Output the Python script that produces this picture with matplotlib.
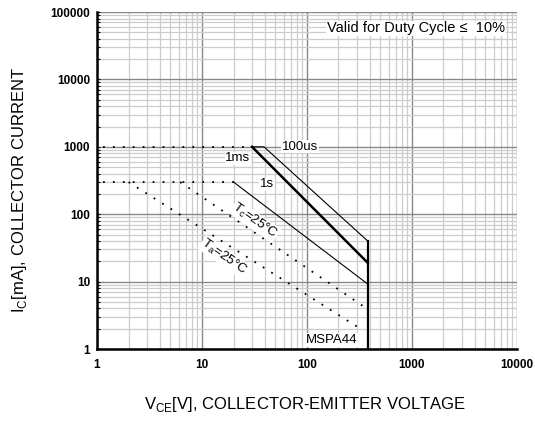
import matplotlib
matplotlib.use("Agg")
import matplotlib.pyplot as plt
from matplotlib.ticker import LogLocator, FixedLocator, NullFormatter

plt.rcParams['font.family'] = ['Liberation Sans', 'DejaVu Sans']

# SOA curves (Vce [V], Ic [mA])
v_100us = [30, 39, 380, 380]
i_100us = [1000, 1000, 40, 1]
v_1ms = [30, 380]
i_1ms = [1000, 19]
v_1s = [20, 380]
i_1s = [300, 9.2]
v_dc1000 = [1.15, 30]
i_dc1000 = [1000, 1000]
v_dc300 = [1.15, 20]
i_dc300 = [300, 300]
v_tc = [6.2, 345]
i_tc = [300, 4.3]
v_ta = [2.0, 340]
i_ta = [300, 1.9]

xticks = [1, 10, 100, 1000, 10000]
yticks = [1, 10, 100, 1000, 10000, 100000]

fig = plt.figure(figsize=(5.35, 4.23), dpi=100)
ax = fig.add_axes([0.1813, 0.1749, 0.7847, 0.7967])
ax.set_xscale('log')
ax.set_yscale('log')
ax.set_xlim(1, 10000)
ax.set_ylim(1, 100000)

ax.xaxis.set_major_locator(FixedLocator(xticks))
ax.yaxis.set_major_locator(FixedLocator(yticks))
ax.set_xticklabels([str(t) for t in xticks], fontweight='bold', fontsize=8.5)
ax.set_yticklabels([str(t) for t in yticks], fontweight='bold', fontsize=8.5)
ax.xaxis.set_minor_locator(LogLocator(base=10, subs=range(2, 10), numticks=20))
ax.yaxis.set_minor_locator(LogLocator(base=10, subs=range(2, 10), numticks=20))
ax.xaxis.set_minor_formatter(NullFormatter())
ax.yaxis.set_minor_formatter(NullFormatter())
ax.grid(which='minor', color='#cccccc', linewidth=0.9)
ax.grid(which='major', color='#888888', linewidth=1.0)
ax.set_axisbelow(True)
ax.tick_params(which='both', direction='in', length=2, width=0.8, pad=5)
ax.tick_params(axis='x', which='both', length=0, pad=7)
for s in ['left', 'bottom']:
    ax.spines[s].set_linewidth(1.8)
for s in ['top', 'right']:
    ax.spines[s].set_visible(False)

ax.plot(v_100us, i_100us, color='black', lw=0.8)
ax.plot(v_1ms, i_1ms, color='black', lw=1.8)
ax.plot(v_1s, i_1s, color='black', lw=0.8)
ax.plot([380, 380], [40, 1], color='black', lw=1.6)
dot = dict(color='black', lw=1.3, linestyle=(0, (1, 4.5)))
ax.plot(v_dc1000, i_dc1000, **dot)
ax.plot(v_dc300, i_dc300, **dot)
ax.plot(v_tc, i_tc, **dot)
ax.plot(v_ta, i_ta, **dot)

box = dict(facecolor='white', edgecolor='none', pad=0.5)
fs = 9.5
ax.text(86, 1000, '100us', fontsize=fs, ha='center', va='center', bbox=box)
ax.text(22, 676, '1ms', fontsize=fs, ha='center', va='center', bbox=box)
ax.text(41.5, 278, '1s', fontsize=fs, ha='center', va='center', bbox=box)
ax.text(32, 79, 'T$_\\mathregular{c}$=25°C', fontsize=fs, ha='center', va='center',
        rotation=-35, bbox=box)
ax.text(16.2, 23, 'T$_\\mathregular{a}$=25°C', fontsize=fs, ha='center', va='center',
        rotation=-35, bbox=box)
ax.text(173, 1.36, 'MSPA44', fontsize=fs, ha='center', va='center', bbox=box)
ax.text(7700, 57000, 'Valid for Duty Cycle \u2264  10%', fontsize=10.5, ha='right', va='center',
        bbox=box)

fig.text(0.57, 0.043, 'V$_\\mathregular{CE}$[V], COLLECTOR-EMITTER VOLTAGE', fontsize=12,
         ha='center', va='center')
fig.text(0.036, 0.55, 'I$_\\mathregular{C}$[mA], COLLECTOR CURRENT', fontsize=12,
         ha='center', va='center', rotation=90)

fig.savefig('out.png', dpi=100)
